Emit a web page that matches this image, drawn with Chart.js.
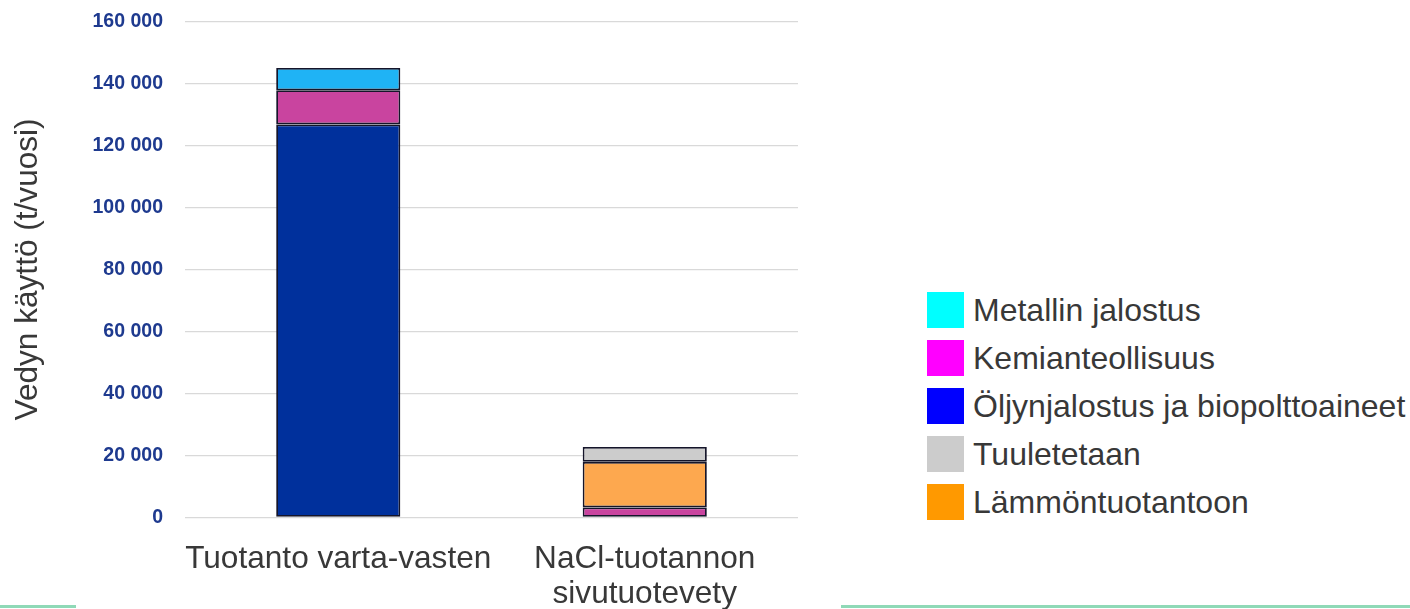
<!DOCTYPE html>
<html>
<head>
<meta charset="utf-8">
<script src="https://cdn.jsdelivr.net/npm/chart.js@4"></script>
<style>
  body { margin: 0; background: #fff; width: 1410px; height: 609px; overflow: hidden; position: relative; font-family: 'Liberation Sans', Arial, sans-serif; }
  #wrap { position: absolute; left: 0; top: 0; width: 900px; height: 609px; }
  #legend { position: absolute; left: 927px; top: 292px; margin: 0; padding: 0; list-style: none; }
  #legend li { height: 36px; margin-bottom: 12px; display: flex; align-items: flex-start; }
  #legend span.box { width: 37px; height: 36px; display: inline-block; }
  #legend span.txt { margin-left: 9px; font-size: 32px; line-height: 36px; color: #383838; white-space: nowrap; }
  .deco { position: absolute; height: 3px; background: #8fd9b7; top: 605px; }
</style>
</head>
<body>
<div id="wrap"><canvas id="h2Chart" width="900" height="609"></canvas></div>
<ul id="legend"></ul>
<div class="deco" style="left:0;width:76px"></div>
<div class="deco" style="left:841px;width:569px"></div>
<script>
// Vedyn käyttö Suomessa (t/vuosi)
const categories = [['Tuotanto varta-vasten'], ['NaCl-tuotannon', 'sivutuotevety']];
const oljynjalostus = [126800, null];
const kemianteollisuus = [11000, 3200];
const metallinJalostus = [7200, null];
const lammontuotanto = [null, 14700];
const tuuletetaan = [null, 4800];
const yTicks = [0, 20000, 40000, 60000, 80000, 100000, 120000, 140000, 160000];

// legend order (top to bottom) and its own colours
const legendOrder = ['Metallin jalostus', 'Kemianteollisuus', 'Öljynjalostus ja biopolttoaineet', 'Tuuletetaan', 'Lämmöntuotantoon'];
const legendColors = ['#00ffff', '#ff00ff', '#0000ff', '#cccccc', '#ff9900'];

const edge = '#15152a';

document.addEventListener('DOMContentLoaded', function() {
    const ctx = document.getElementById('h2Chart').getContext('2d');

    const bar = (label, data, color) => ({
        label: label,
        data: data,
        backgroundColor: color,
        borderColor: edge,
        borderWidth: 1.8,
        borderSkipped: false,
        barPercentage: 0.405,
        categoryPercentage: 1
    });

    new Chart(ctx, {
        type: 'bar',
        data: {
            labels: categories,
            datasets: [
                bar('Öljynjalostus ja biopolttoaineet', oljynjalostus, '#00309c'),
                bar('Kemianteollisuus', kemianteollisuus, '#c9449f'),
                bar('Metallin jalostus', metallinJalostus, '#1fb3f5'),
                bar('Lämmöntuotantoon', lammontuotanto, '#fda84f'),
                bar('Tuuletetaan', tuuletetaan, '#cccccc')
            ]
        },
        options: {
            responsive: false,
            animation: false,
            layout: { padding: { top: 21.5, right: 102, bottom: 0, left: 0 } },
            scales: {
                x: {
                    stacked: true,
                    grid: { display: false },
                    border: { display: false },
                    ticks: {
                        color: '#383838',
                        padding: 17,
                        maxRotation: 0,
                        autoSkip: false,
                        font: { family: "'Liberation Sans', Arial", size: 31.6, lineHeight: 1.1 }
                    },
                    afterFit: function(scale) { scale.height = 91.7; }
                },
                y: {
                    stacked: true,
                    min: 0,
                    max: 160000,
                    afterBuildTicks: function(scale) {
                        scale.ticks = yTicks.map(v => ({ value: v }));
                    },
                    grid: { color: '#d9d9d9', lineWidth: 1.2, drawTicks: false },
                    border: { display: false },
                    ticks: {
                        color: '#1e3a8f',
                        padding: 22,
                        font: { family: "'Liberation Sans', Arial", size: 19.5, weight: 'bold' },
                        callback: function(v) {
                            return v.toString().replace(/\B(?=(\d{3})+(?!\d))/g, ' ');
                        }
                    },
                    title: {
                        display: true,
                        text: 'Vedyn käyttö (t/vuosi)',
                        color: '#383838',
                        padding: { top: 9, bottom: 0 },
                        font: { family: "'Liberation Sans', Arial", size: 31.6, lineHeight: 1.2 }
                    },
                    afterFit: function(scale) {
                        scale.width = 185;
                        scale.paddingTop = 0;
                        scale.paddingBottom = 0;
                    }
                }
            },
            plugins: {
                legend: { display: false },
                tooltip: { enabled: false }
            }
        }
    });

    // legend on the right
    const ul = document.getElementById('legend');
    legendOrder.forEach(function(name, i) {
        const li = document.createElement('li');
        li.innerHTML = '<span class="box" style="background:' + legendColors[i] + '"></span><span class="txt">' + name + '</span>';
        ul.appendChild(li);
    });
});
</script>
</body>
</html>
